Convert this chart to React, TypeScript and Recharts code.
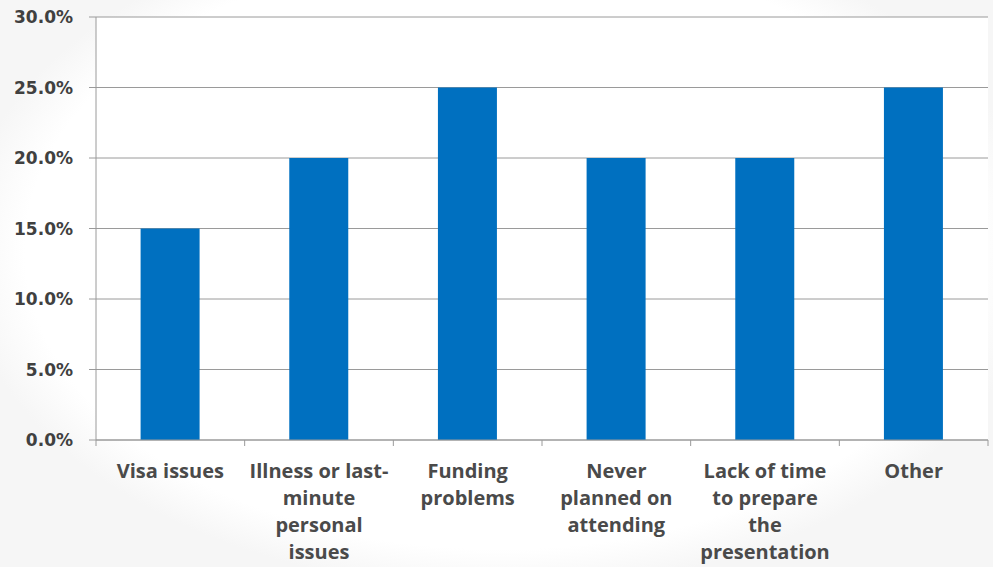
import { Bar, BarChart, CartesianGrid, XAxis, YAxis } from "recharts";

const categories = [
  "Visa issues",
  "Illness or last-minute personal issues",
  "Funding problems",
  "Never planned on attending",
  "Lack of time to prepare the presentation",
  "Other",
];
const shares = [15, 20, 25, 20, 20, 25];
const tickLines = [
  ["Visa issues"],
  ["Illness or last-", "minute", "personal", "issues"],
  ["Funding", "problems"],
  ["Never", "planned on", "attending"],
  ["Lack of time", "to prepare", "the", "presentation"],
  ["Other"],
];
const yTicks = [0, 5, 10, 15, 20, 25, 30];

const data = categories.map((name, i) => ({ name, share: shares[i] }));

const W = 993;
const H = 567;
const LEFT = 96;
const RIGHT = 5;
const BAND = (W - LEFT - RIGHT) / categories.length;

const CategoryTick = (props: any) => {
  const { x, y, index } = props;
  const lines = tickLines[index] || [];
  const left = x - BAND / 2;
  return (
    <g>
      <line x1={left} y1={y - 8} x2={left} y2={y - 2} stroke="#9a9a9a" />
      {index === categories.length - 1 && (
        <line x1={left + BAND} y1={y - 8} x2={left + BAND} y2={y - 2} stroke="#9a9a9a" />
      )}
      <text
        x={x}
        y={y + 30}
        textAnchor="middle"
        fill="#4a4a4a"
        fontFamily="'Open Sans', sans-serif"
        fontWeight={700}
        fontSize={20}
      >
        {lines.map((l, i) => (
          <tspan key={i} x={x} dy={i === 0 ? 0 : 27}>
            {l}
          </tspan>
        ))}
      </text>
    </g>
  );
};

export default function App() {
  return (
    <div
      style={{
        position: "absolute",
        left: 0,
        top: 0,
        width: W,
        height: H,
        background:
          "radial-gradient(ellipse 540px 340px at 500px 250px, #ffffff 88%, #f6f6f6 100%)",
      }}
    >
      <BarChart
        width={W}
        height={H}
        data={data}
        margin={{ top: 17, right: RIGHT, left: 0, bottom: 0 }}
        barCategoryGap="30%"
      >
        <CartesianGrid vertical={false} stroke="#9a9a9a" fill="#ffffff" />
        <XAxis
          dataKey="name"
          height={127}
          interval={0}
          tickLine={false}
          axisLine={{ stroke: "#9a9a9a" }}
          tick={<CategoryTick />}
        />
        <YAxis
          width={LEFT}
          domain={[0, 30]}
          ticks={yTicks}
          tickSize={7}
          tickMargin={16}
          tickLine={{ stroke: "#9a9a9a" }}
          axisLine={{ stroke: "#9a9a9a" }}
          tickFormatter={(v: number) => `${v.toFixed(1)}%`}
          tick={{
            fill: "#404040",
            fontSize: 17,
            fontWeight: 700,
            fontFamily: "'DejaVu Sans', Verdana, sans-serif",
          }}
        />
        <Bar dataKey="share" fill="#0070C0" isAnimationActive={false} />
      </BarChart>
    </div>
  );
}
